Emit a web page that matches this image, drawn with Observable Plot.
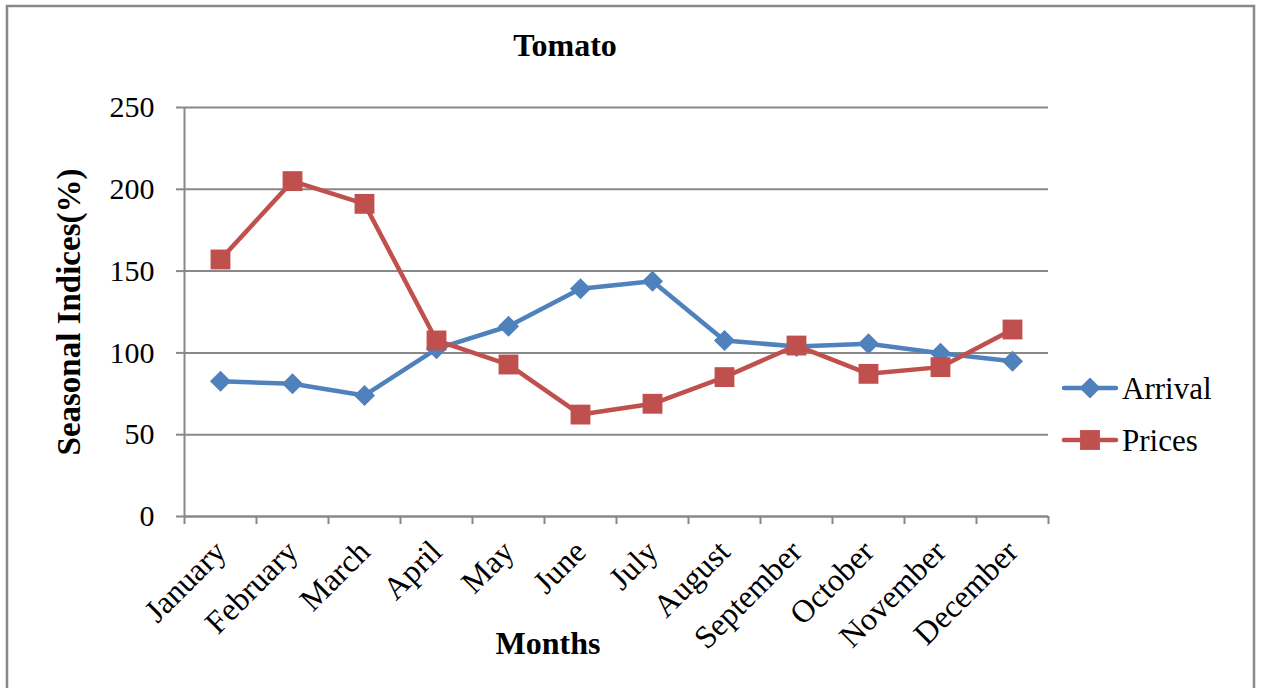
<!DOCTYPE html>
<html>
<head>
<meta charset="utf-8">
<script src="https://cdn.jsdelivr.net/npm/d3@7"></script>
<script src="https://cdn.jsdelivr.net/npm/@observablehq/plot@0.6"></script>
<style>
  html, body { margin: 0; padding: 0; background: #fff; overflow: hidden; }
  #chart { width: 1264px; height: 688px; overflow: hidden; }
</style>
</head>
<body>
<div id="chart"></div>
<script>
const months = ["January","February","March","April","May","June","July","August","September","October","November","December"];
const arrival = [82.7, 81.1, 74.0, 102.5, 116.3, 139.2, 143.8, 107.6, 103.9, 105.6, 99.8, 94.9];
const prices  = [157.1, 205.0, 191.1, 107.6, 92.9, 62.3, 68.9, 85.2, 104.5, 87.2, 91.3, 114.3];
const yTicks = [0, 50, 100, 150, 200, 250];
const seriesNames = ["Arrival", "Prices"];
const colors = ["#4F81BD", "#C0504D"];

const data = months.map((m, i) => ({i, month: m, arrival: arrival[i], prices: prices[i]}));
const boundaries = d3.range(months.length + 1).map(k => k - 0.5);
const font = "'Liberation Serif', 'Times New Roman', serif";
const grid = "#888888";

const svg = Plot.plot({
  width: 1264,
  height: 688,
  marginLeft: 184,
  marginRight: 216,
  marginTop: 107,
  marginBottom: 172,
  style: {fontFamily: font, fontSize: "29px", color: "#000", background: "#fff", overflow: "visible"},
  x: {domain: [-0.5, months.length - 0.5]},
  y: {domain: [0, 250]},
  marks: [
    Plot.gridY(yTicks, {stroke: grid, strokeOpacity: 1, strokeWidth: 2}),
    Plot.ruleX([-0.5], {stroke: grid, strokeWidth: 2}),
    Plot.ruleY([0], {stroke: grid, strokeWidth: 2}),
    Plot.axisY({ticks: yTicks, tickSize: 8, tickPadding: 22, stroke: grid, strokeWidth: 2, strokeOpacity: 1, label: null, fontSize: 30}),
    Plot.axisX({ticks: boundaries, tickSize: 8, tickFormat: () => "", stroke: grid, strokeWidth: 2, strokeOpacity: 1, label: null}),
    Plot.axisX({ticks: d3.range(months.length), tickSize: 0, tickPadding: 30, tickRotate: -45, tickFormat: i => months[i], label: null, fontSize: 32}),
    Plot.line(data, {x: "i", y: "arrival", stroke: colors[0], strokeWidth: 4.5, strokeLinejoin: "round", strokeLinecap: "round"}),
    Plot.line(data, {x: "i", y: "prices", stroke: colors[1], strokeWidth: 4.5, strokeLinejoin: "round", strokeLinecap: "round"}),
    Plot.dot(data, {x: "i", y: "arrival", symbol: "diamond2", r: 9.5, fill: colors[0], stroke: "none"}),
    Plot.dot(data, {x: "i", y: "prices", symbol: "square", r: 11.2, fill: colors[1], stroke: "none"})
  ]
});

document.getElementById("chart").appendChild(svg);
const s = d3.select(svg);

// outer border
s.append("rect").attr("x", 7).attr("y", 6).attr("width", 1247).attr("height", 720)
  .attr("fill", "none").attr("stroke", grid).attr("stroke-width", 2.5);

// title
s.append("text").attr("x", 565).attr("y", 56).attr("text-anchor", "middle")
  .attr("font-family", font).attr("font-weight", "bold").attr("font-size", 32).attr("fill", "#000")
  .text("Tomato");

// y label
s.append("text").attr("transform", "translate(80,312) rotate(-90)").attr("text-anchor", "middle")
  .attr("font-family", font).attr("font-weight", "bold").attr("font-size", 33).attr("fill", "#000")
  .text("Seasonal Indices(%)");

// x label
s.append("text").attr("x", 548).attr("y", 654).attr("text-anchor", "middle")
  .attr("font-family", font).attr("font-weight", "bold").attr("font-size", 32).attr("fill", "#000")
  .text("Months");

// legend
const legendY = [388, 440];
const symbols = [d3.symbolDiamond2, d3.symbolSquare];
const symSizes = [9.5 * 9.5 * Math.PI, 11.2 * 11.2 * Math.PI];
seriesNames.forEach((name, k) => {
  const g = s.append("g").attr("transform", `translate(0,${legendY[k]})`);
  g.append("line").attr("x1", 1064).attr("x2", 1116).attr("y1", 0).attr("y2", 0)
    .attr("stroke", colors[k]).attr("stroke-width", 4.5).attr("stroke-linecap", "round");
  g.append("path").attr("transform", "translate(1090,0)")
    .attr("d", d3.symbol(symbols[k], symSizes[k])()).attr("fill", colors[k]);
  g.append("text").attr("x", 1122).attr("y", 0).attr("dy", "0.35em").attr("text-anchor", "start")
    .attr("font-family", font).attr("font-size", 31).attr("fill", "#000").text(name);
});
</script>
</body>
</html>
